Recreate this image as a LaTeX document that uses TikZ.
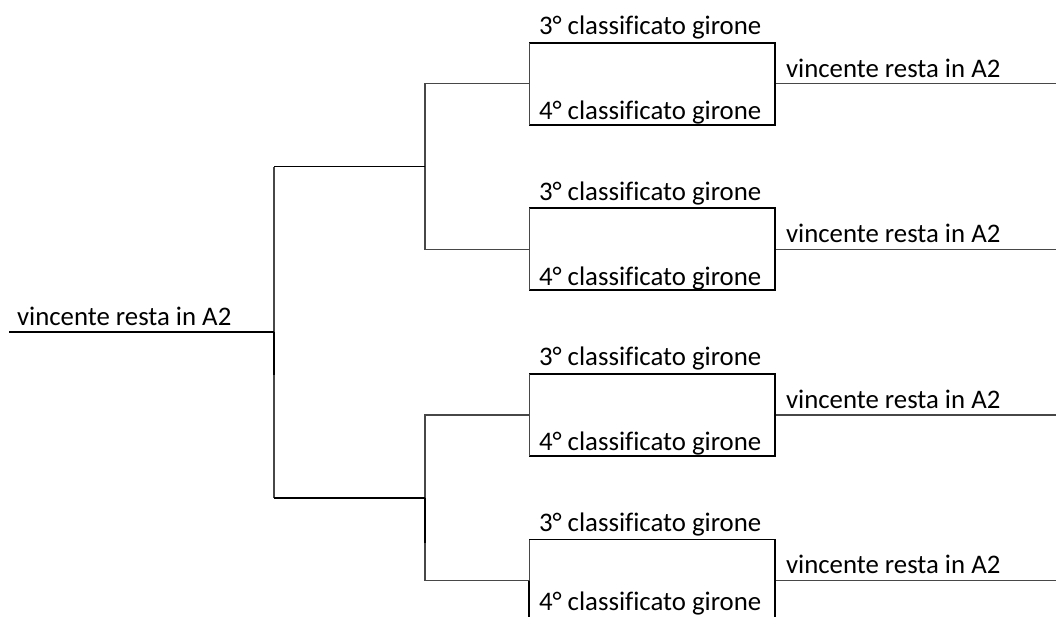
\documentclass[tikz,border=0pt]{standalone}
\usepackage{fontspec}
\setmainfont{Carlito}[Ligatures=NoCommon]
\begin{document}
\begin{tikzpicture}[x=1pt,y=-1pt,
  heavy/.style={line width=1.8pt, black},
  light/.style={line width=1.2pt, black!72},
  lbl/.style={anchor=base west, inner sep=0pt, outer sep=0pt, font=\fontsize{26.8}{32}\selectfont},
  boxnode/.style={minimum width=245.7pt, minimum height=82pt, inner sep=0pt, outer sep=0pt}]
\clip (0,0) rectangle (1056,616);
\foreach \k/\yc/\fy in {1/83.7/119.4, 2/249.3/285.0, 3/414.9/450.6, 4/580.5/610.5} {
  \node[boxnode] (box\k) at (652.15,\yc) {};
  \node[lbl] (third\k) at (539,{\yc-49}) {3° classificato girone};
  \node[lbl] (fourth\k) at (539,\fy) {4° classificato girone};
  \node[lbl] (win\k) at (786,{\yc-6.7}) {vincente resta in A2};
  \coordinate (end\k) at (1056,\yc);
  \draw[light] (box\k.east) -- (end\k);
  \draw[heavy] (box\k.north west) -- (box\k.north east) -- (box\k.south east) -- (box\k.south west);
  \draw[light] (box\k.south west) -- (box\k.north west);
}
\coordinate (j12) at (425,166.5);
\coordinate (j34) at (425,497.7);
\coordinate (root) at (274,332.1);
\coordinate (start) at (9,332.1);
\draw[light] (box1.west) -| (j12) |- (box2.west);
\draw[light] (box3.west) -| (j34) |- (box4.west);
\draw[light] (root |- j12) -- (root |- j34);
\draw[heavy] (j12) -- (root |- j12);
\draw[heavy] (j34) -- (root |- j34);
\draw[heavy] (start) -- (root);
\draw[heavy] (root) -- ++(0,43);
\draw[heavy] (j34) -- ++(0,45);
\draw[heavy] (box4.west) -- (box4.south west);
\node[lbl] (winroot) at (17,325.5) {vincente resta in A2};
\end{tikzpicture}
\end{document}
